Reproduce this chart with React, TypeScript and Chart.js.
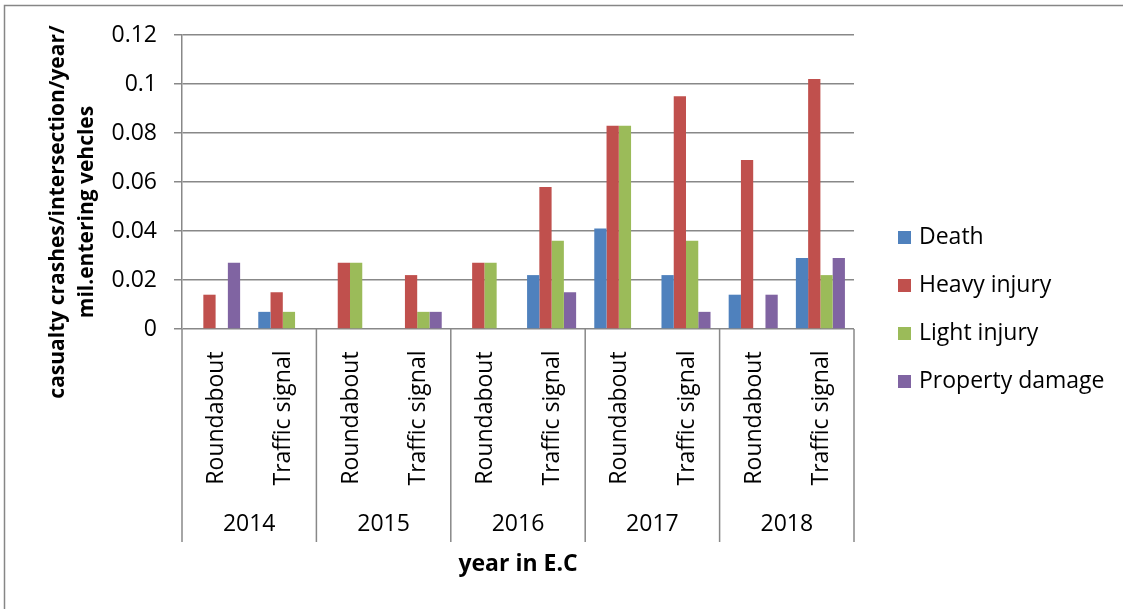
import React, { useEffect, useRef } from "react";
import { Chart, registerables } from "chart.js";

Chart.register(...registerables);

const years = ["2014", "2015", "2016", "2017", "2018"];
const sites = ["Roundabout", "Traffic signal"];
const categories = years.flatMap((y) => sites.map((s) => `${y} ${s}`));

const death = [0, 0.007, 0, 0, 0, 0.022, 0.041, 0.022, 0.014, 0.029];
const heavyInjury = [0.014, 0.015, 0.027, 0.022, 0.027, 0.058, 0.083, 0.095, 0.069, 0.102];
const lightInjury = [0, 0.007, 0.027, 0.007, 0.027, 0.036, 0.083, 0.036, 0, 0.022];
const propertyDamage = [0.027, 0, 0, 0.007, 0, 0.015, 0, 0.007, 0.014, 0.029];

const seriesNames = ["Death", "Heavy injury", "Light injury", "Property damage"];
const seriesColors = ["#4F81BD", "#C0504D", "#9BBB59", "#8064A2"];

const yTicks = [0, 0.02, 0.04, 0.06, 0.08, 0.1, 0.12];
const yTitleLines = ["casualty crashes/intersection/year/", "mil.entering vehcles"];
const xTitle = "year in E.C";

const FONT = "'Open Sans', sans-serif";
const GRID = "#888888";

const overlay = {
  id: "overlay",
  afterDraw(chart: any) {
    const ctx = chart.ctx as CanvasRenderingContext2D;
    const area = chart.chartArea;
    const x = chart.scales.x;
    const n = categories.length;
    const catW = (area.right - area.left) / n;
    ctx.save();
    // outer border
    ctx.strokeStyle = "#868686";
    ctx.lineWidth = 1.5;
    ctx.strokeRect(4.5, 5.5, 1140, 620);

    // group separators
    ctx.strokeStyle = GRID;
    ctx.lineWidth = 1.5;
    const sepBottom = 542;
    for (let g = 0; g <= years.length; g++) {
      const px = g < years.length
        ? x.getPixelForValue(g * sites.length) - catW / 2
        : x.getPixelForValue(n - 1) + catW / 2;
      ctx.beginPath();
      ctx.moveTo(px, area.bottom);
      ctx.lineTo(px, sepBottom);
      ctx.stroke();
    }

    // category labels (rotated)
    ctx.fillStyle = "#000";
    ctx.font = `23px ${FONT}`;
    ctx.textAlign = "center";
    ctx.textBaseline = "middle";
    for (let i = 0; i < n; i++) {
      const cx = x.getPixelForValue(i);
      ctx.save();
      ctx.translate(cx + 1, 418);
      ctx.rotate(-Math.PI / 2);
      ctx.fillText(sites[i % sites.length], 0, 0);
      ctx.restore();
    }
    // year labels
    for (let g = 0; g < years.length; g++) {
      const cx = (x.getPixelForValue(g * 2) + x.getPixelForValue(g * 2 + 1)) / 2;
      ctx.fillText(years[g], cx, 524);
    }
    // x title
    ctx.font = `bold 23px ${FONT}`;
    ctx.fillText(xTitle, (area.left + area.right) / 2, 564);

    // y title
    ctx.font = `bold 21px ${FONT}`;
    yTitleLines.forEach((line, i) => {
      ctx.save();
      ctx.translate(58 + i * 29, 212);
      ctx.rotate(-Math.PI / 2);
      ctx.fillText(line, 0, 0);
      ctx.restore();
    });

    // legend
    ctx.font = `23px ${FONT}`;
    ctx.textAlign = "left";
    seriesNames.forEach((name, i) => {
      const cy = 237 + i * 48;
      ctx.fillStyle = seriesColors[i];
      ctx.fillRect(898, cy - 6, 13, 13);
      ctx.fillStyle = "#000";
      ctx.fillText(name, 919, cy);
    });
    ctx.restore();
  },
};

export default function App() {
  const ref = useRef<HTMLCanvasElement | null>(null);
  useEffect(() => {
    document.body.style.margin = "0";
    const canvas = ref.current!;
    const values = [death, heavyInjury, lightInjury, propertyDamage];
    const chart = new Chart(canvas, {
      type: "bar",
      data: {
        labels: categories,
        datasets: values.map((v, i) => ({
          label: seriesNames[i],
          data: v,
          backgroundColor: seriesColors[i],
          borderWidth: 0,
          categoryPercentage: 0.73,
          barPercentage: 1,
        })),
      },
      plugins: [overlay],
      options: {
        animation: false,
        responsive: false,
        devicePixelRatio: 1,
        layout: { padding: { left: 0, top: 35, right: 269, bottom: 280 } },
        plugins: { legend: { display: false }, tooltip: { enabled: false } },
        scales: {
          x: { display: false },
          y: {
            min: 0,
            max: 0.12,
            afterFit: (s: any) => {
              s.width = 182;
            },
            afterBuildTicks: (s: any) => {
              s.ticks = yTicks.map((v) => ({ value: v }));
            },
            ticks: {
              font: { family: FONT, size: 23 },
              color: "#000",
              padding: 17,
              callback: (v: any) => String(Number(Number(v).toFixed(2))),
            },
            grid: { color: GRID, lineWidth: 1.5, tickLength: 8 },
            border: { color: GRID, width: 1.5 },
          },
        },
      },
    } as any);
    return () => chart.destroy();
  }, []);
  return (
    <div style={{ width: 1123, height: 609, background: "#fff" }}>
      <canvas ref={ref} width={1123} height={609} style={{ display: "block" }} />
    </div>
  );
}
